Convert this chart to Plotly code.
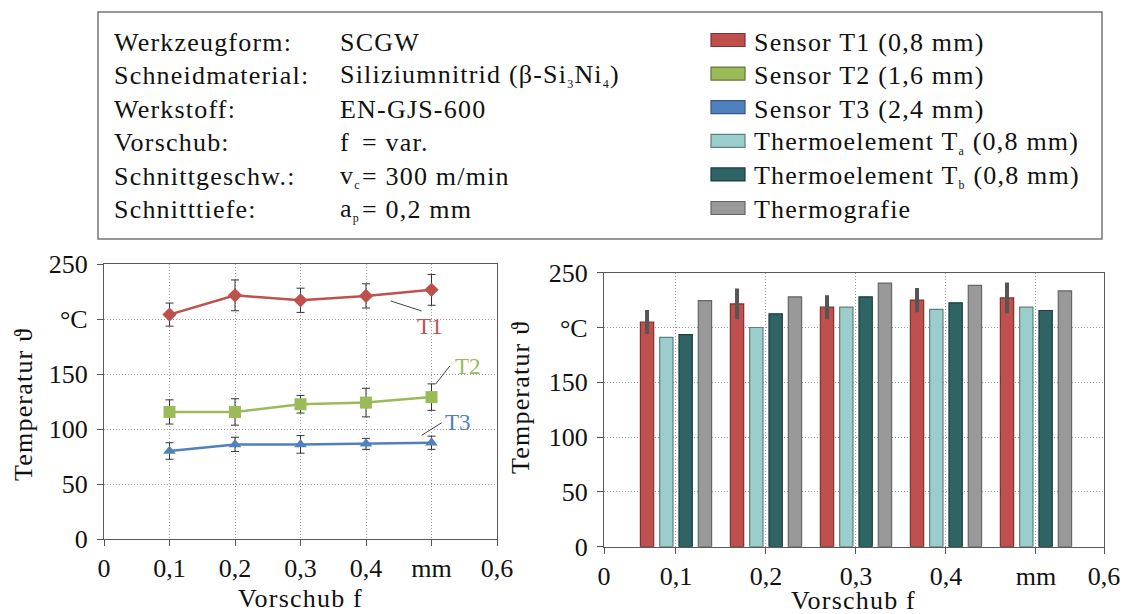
import plotly.graph_objects as go

# ---------------- data ----------------
vorschub = [0.1, 0.2, 0.3, 0.4, 0.5]

# left panel: sensor temperatures over feed (mean and scatter)
t1_verlauf = [204, 221.5, 217, 221, 226.5]
t1_fehler = [10.5, 14, 11, 11, 14]
t2_verlauf = [115.5, 115.5, 122.5, 124, 129]
t2_fehler = [11, 12, 8, 13, 12]
t3_verlauf = [80, 86, 86, 86.5, 87.5]
t3_fehler = [7.5, 6.5, 8, 5, 6]

# right panel: comparison of measuring methods
t1_balken = [205, 221.5, 218.5, 225, 227]
t1_balken_fehler = [11, 14, 11, 11, 14]
thermo_a = [191, 200, 218.5, 216.5, 218.5]
thermo_b = [193.5, 212.5, 228, 222.5, 215.5]
thermografie = [224.5, 228, 240.5, 238.5, 233.5]

x_ticktext = ["0", "0,1", "0,2", "0,3", "0,4", "mm", "0,6"]
y_tickvals = [0, 50, 100, 150, 200, 250]
y_ticktext = ["0", "50", "100", "150", "°C", "250"]

SUB = '<sub><span style="font-size:12px">{}</span></sub>'

params_names = ["Werkzeugform:", "Schneidmaterial:", "Werkstoff:", "Vorschub:",
                "Schnittgeschw.:", "Schnitttiefe:"]
params_values = [("", "SCGW"),
                 ("", "Siliziumnitrid (β-Si" + SUB.format("3") + "Ni" + SUB.format("4") + ")"),
                 ("", "EN-GJS-600"),
                 ("f", "= var."),
                 ("v" + SUB.format("c"), "= 300 m/min"),
                 ("a" + SUB.format("p"), "= 0,2 mm")]
legend_names = ["Sensor T1 (0,8 mm)", "Sensor T2 (1,6 mm)", "Sensor T3 (2,4 mm)",
                "Thermoelement T" + SUB.format("a") + " (0,8 mm)",
                "Thermoelement T" + SUB.format("b") + " (0,8 mm)", "Thermografie"]

# ---------------- style ----------------
W, H = 1123, 614
FONT = '"Liberation Serif", "Times New Roman", Tinos, "Nimbus Roman", "DejaVu Serif", serif'
FS = 26
RED, GREEN, BLUE = "#C0504D", "#9BBB59", "#4F81BD"
TEAL_L, TEAL_D, GRAY = "#9BCDCC", "#2F6464", "#999999"
legend_colors = [RED, GREEN, BLUE, TEAL_L, TEAL_D, GRAY]
legend_lines = ["#7a3230", "#62763a", "#345784", "#607f7f", "#1d3d3d", "#666666"]


def px(x):
    return x / W


def py(y):
    return 1 - y / H


def wide(txt):
    return '<span style="letter-spacing:1.2px">' + txt + "</span>"


fig = go.Figure()

# ---- left panel: line chart ----
for ys, err, col, sym, size in [
    (t1_verlauf, t1_fehler, RED, "diamond", 11),
    (t2_verlauf, t2_fehler, GREEN, "square", 12),
    (t3_verlauf, t3_fehler, BLUE, "triangle-up", 11),
]:
    fig.add_trace(go.Scatter(
        x=vorschub, y=ys, mode="lines+markers",
        line=dict(color=col, width=2.5),
        marker=dict(symbol=sym, size=size, color=col),
        error_y=dict(type="data", array=err, color="#333333", thickness=1, width=4),
        xaxis="x", yaxis="y", showlegend=False,
    ))

# ---- right panel: grouped bars ----
bar_sets = [
    (t1_balken, RED, "#7a3230", t1_balken_fehler),
    (thermo_a, TEAL_L, "#607f7f", None),
    (thermo_b, TEAL_D, "#1d3d3d", None),
    (thermografie, GRAY, "#666666", None),
]
for i, (vals, col, lcol, err) in enumerate(bar_sets):
    kw = {}
    if err is not None:
        kw["error_y"] = dict(type="data", array=err, color="#555555", thickness=4, width=0)
    fig.add_trace(go.Bar(
        x=vorschub, y=vals, offsetgroup=str(i),
        marker=dict(color=col, line=dict(color=lcol, width=1.2)),
        xaxis="x2", yaxis="y2", showlegend=False, **kw,
    ))

axis_common = dict(
    showgrid=True, gridcolor="#9a9a9a", griddash="1px,2px", gridwidth=1,
    showline=True, linecolor="#5a5a5a", linewidth=1.2, mirror=True,
    ticks="outside", ticklen=6, tickcolor="#555555", zeroline=False,
    automargin=False,
    tickfont=dict(family=FONT, size=FS, color="#111111"),
)

fig.update_layout(
    template="none",
    width=W, height=H, autosize=False, margin=dict(l=0, r=0, t=0, b=0, pad=0),
    paper_bgcolor="white", plot_bgcolor="white",
    font=dict(family=FONT, size=FS, color="#111111"),
    barmode="group", bargap=0.142, bargroupgap=0.31,
    xaxis=dict(domain=[px(104), px(497)], range=[0, 0.6],
               tickvals=[0, 0.1, 0.2, 0.3, 0.4, 0.5, 0.6], ticktext=x_ticktext,
               anchor="y", **axis_common),
    yaxis=dict(domain=[py(539), py(264)], range=[0, 250],
               tickvals=y_tickvals, ticktext=y_ticktext, anchor="x",
               ticklabelstandoff=4, **axis_common),
    xaxis2=dict(domain=[px(604), px(1104)], range=[0.02, 0.5756],
                tickvals=[0.02, 0.1, 0.2, 0.3, 0.4, 0.5, 0.5756], ticktext=x_ticktext,
                anchor="y2", **axis_common),
    yaxis2=dict(domain=[py(546.7), py(272.7)], range=[0, 250],
                tickvals=y_tickvals, ticktext=y_ticktext, anchor="x2",
                ticklabelstandoff=4, **axis_common),
)

annotations = []
shapes = []

# axis titles
for x, y, txt, ang in [(23, 405, "Temperatur ϑ", -90), (520, 398, "Temperatur ϑ", -90),
                       (300, 598, "Vorschub f", 0), (853, 600, "Vorschub f", 0)]:
    annotations.append(dict(x=px(x), y=py(y), xref="paper", yref="paper", text=wide(txt),
                            textangle=ang, showarrow=False, xanchor="center",
                            yanchor="middle", font=dict(family=FONT, size=FS)))

# series labels with leader lines (data coordinates of the left panel)
for txt, col, lx, ly, x0, y0, x1, y1 in [
    ("T1", RED, 0.498, 193.5, 0.4377, 216.4, 0.485, 207.3),
    ("T2", GREEN, 0.556, 156.5, 0.528, 157.3, 0.5064, 140.9),
    ("T3", BLUE, 0.541, 106, 0.5156, 105.7, 0.485, 94.3),
]:
    annotations.append(dict(x=lx, y=ly, xref="x", yref="y", text=txt, showarrow=False,
                            font=dict(family=FONT, size=23, color=col)))
    shapes.append(dict(type="line", xref="x", yref="y", x0=x0, y0=y0, x1=x1, y1=y1,
                       line=dict(color="#444444", width=1)))

# parameter box
shapes.append(dict(type="rect", xref="paper", yref="paper",
                   x0=px(98), x1=px(1102), y0=py(239), y1=py(12),
                   line=dict(color="#777777", width=1.5), fillcolor="rgba(0,0,0,0)"))


def text_at(x, y, txt):
    annotations.append(dict(x=px(x), y=py(y), xref="paper", yref="paper", text=wide(txt),
                            showarrow=False, xanchor="left", yanchor="middle",
                            font=dict(family=FONT, size=FS, color="#111111")))


row_y = [42 + 33.6 * i for i in range(6)]
for i, name in enumerate(params_names):
    text_at(112, row_y[i], name)
    sym, val = params_values[i]
    if sym:
        text_at(338, row_y[i], sym)
        text_at(360, row_y[i], val)
    else:
        text_at(338, row_y[i], val)

for i, name in enumerate(legend_names):
    yc = row_y[i] - 2
    shapes.append(dict(type="rect", xref="paper", yref="paper",
                       x0=px(711), x1=px(745), y0=py(yc + 6.5), y1=py(yc - 6.5),
                       fillcolor=legend_colors[i],
                       line=dict(color=legend_lines[i], width=1.2)))
    text_at(752, row_y[i], name)

fig.update_layout(annotations=annotations, shapes=shapes)
fig.write_html("out.html")
